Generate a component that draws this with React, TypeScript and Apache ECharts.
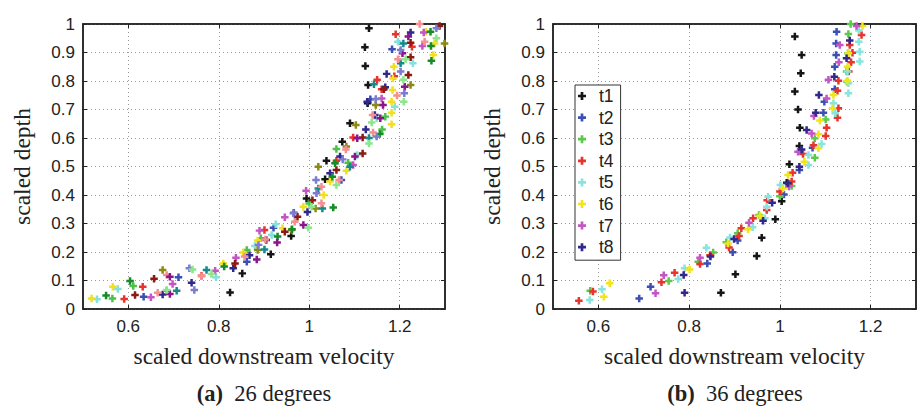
import React, { useEffect, useRef } from 'react';
import * as echarts from 'echarts';

// ---------- shared axis values ----------
const xTickValues = [0.6, 0.8, 1.0, 1.2];
const xMin = 0.5;
const xMax = 1.3;
const yMin = 0;
const yMax = 1;

// ---------- (a) 26 degrees : 16 profiles ----------
const a26_black = [[1.132,0.985],[1.123,0.918],[1.124,0.853],[1.130,0.786],[1.129,0.722],[1.090,0.652],[1.073,0.587],[1.038,0.520],[1.035,0.455],[0.994,0.388],[0.960,0.256],[0.915,0.192],[0.852,0.125],[0.825,0.058]];
const a26_blue = [[1.183,0.911],[1.135,0.736],[1.071,0.453],[0.966,0.338],[0.921,0.285],[0.862,0.166],[0.711,0.111],[0.634,0.043]];
const a26_green = [[1.168,0.675],[1.161,0.630],[1.060,0.561],[1.086,0.513],[1.000,0.370],[0.893,0.248],[0.862,0.207],[0.611,0.081],[0.565,0.037]];
const a26_red = [[1.191,0.964],[1.227,0.920],[1.188,0.817],[1.150,0.804],[1.160,0.771],[1.097,0.602],[1.060,0.520],[0.901,0.277],[0.762,0.117],[0.632,0.078],[0.591,0.035]];
const a26_cyan = [[1.196,0.938],[1.229,0.862],[1.189,0.710],[1.149,0.669],[1.106,0.540],[0.926,0.297],[0.917,0.260],[0.880,0.221],[0.794,0.111],[0.577,0.070],[0.531,0.034]];
const a26_yellow = [[1.258,0.973],[1.277,0.932],[1.274,0.891],[1.187,0.850],[1.185,0.809],[1.184,0.768],[1.182,0.727],[1.182,0.689],[1.182,0.648],[1.082,0.485],[1.046,0.447],[1.032,0.400],[0.987,0.359],[0.941,0.283],[0.886,0.240],[0.854,0.198],[0.810,0.160],[0.566,0.078],[0.519,0.037]];
const a26_magenta = [[1.253,0.970],[1.250,0.923],[1.160,0.739],[1.097,0.505],[0.993,0.415],[0.946,0.322],[0.890,0.275],[0.838,0.180],[0.792,0.134],[0.698,0.088],[0.650,0.041]];
const a26_navy = [[1.224,0.970],[1.171,0.825],[1.168,0.778],[1.128,0.727],[1.145,0.681],[1.125,0.630],[1.068,0.535],[1.046,0.476],[0.996,0.340],[0.905,0.242],[0.868,0.189],[0.832,0.143],[0.740,0.092],[0.676,0.051]];
const a26_darkred = [[1.288,0.993],[1.224,0.934],[1.224,0.883],[1.219,0.821],[1.165,0.771],[1.118,0.602],[1.118,0.546],[1.060,0.488],[1.007,0.382],[0.974,0.324],[0.946,0.271],[0.836,0.160],[0.657,0.106],[0.615,0.049]];
const a26_olive = [[1.299,0.932],[1.224,0.786],[1.147,0.716],[1.103,0.646],[1.082,0.570],[1.020,0.499],[1.014,0.353],[0.961,0.277],[0.886,0.207],[0.676,0.137],[0.685,0.064]];
const a26_teal = [[1.208,0.932],[1.202,0.862],[1.143,0.789],[1.132,0.600],[1.090,0.499],[1.020,0.423],[1.029,0.353],[0.901,0.209],[0.773,0.137],[0.707,0.064]];
const a26_darkgreen = [[1.268,0.973],[1.269,0.923],[1.270,0.871],[1.156,0.614],[1.057,0.511],[1.051,0.464],[1.053,0.356],[0.962,0.280],[0.930,0.254],[0.812,0.149],[0.604,0.098],[0.551,0.047]];
const a26_pink = [[1.244,1.000],[1.255,0.938],[1.196,0.876],[1.194,0.749],[1.140,0.681],[1.141,0.619],[1.081,0.560],[1.066,0.453],[1.027,0.429],[1.027,0.371],[0.968,0.306],[0.903,0.244],[0.857,0.184],[0.762,0.115],[0.685,0.119],[0.665,0.057]];
const a26_purple = [[1.219,0.956],[1.206,0.897],[1.211,0.780],[1.163,0.716],[1.157,0.669],[1.106,0.599],[1.101,0.535],[0.987,0.295],[0.929,0.233],[0.884,0.174],[0.692,0.113],[0.692,0.053]];
const a26_lavender = [[1.281,0.985],[1.202,0.909],[1.202,0.833],[1.210,0.757],[1.147,0.737],[1.149,0.605],[1.074,0.525],[1.015,0.453],[1.016,0.406],[0.965,0.336],[0.888,0.225],[0.735,0.143],[0.746,0.067]];
const a26_lightgreen = [[1.281,0.950],[1.213,0.876],[1.208,0.804],[1.209,0.727],[1.138,0.654],[1.132,0.581],[1.060,0.435],[1.005,0.359],[0.998,0.285],[0.784,0.123],[0.742,0.139],[0.685,0.067]];

const leftData = [a26_black, a26_blue, a26_green, a26_red, a26_cyan, a26_yellow, a26_magenta, a26_navy,
  a26_darkred, a26_olive, a26_teal, a26_darkgreen, a26_pink, a26_purple, a26_lavender, a26_lightgreen];
const leftColors = ['#151515', '#3c50b4', '#4cc24c', '#e8342c', '#88e0da', '#f0e020', '#c455c4', '#2e2a8c',
  '#8c1a14', '#8c8a14', '#148a8a', '#148c28', '#f49090', '#8c148c', '#7c7cd0', '#8ce68c'];

// ---------- (b) 36 degrees : t1..t8 ----------
const b36_t1 = [[1.033,0.956],[1.048,0.891],[1.046,0.827],[1.033,0.763],[1.040,0.700],[1.044,0.636],[1.043,0.572],[1.021,0.508],[1.015,0.443],[1.004,0.378],[0.990,0.315],[0.960,0.250],[0.949,0.186],[0.902,0.122],[0.870,0.057]];
const b36_t2 = [[1.125,0.973],[1.124,0.932],[1.124,0.891],[1.121,0.850],[1.121,0.771],[1.098,0.727],[1.096,0.689],[1.072,0.566],[1.043,0.488],[1.009,0.402],[0.907,0.240],[0.896,0.199],[0.840,0.160],[0.715,0.078],[0.690,0.037]];
const b36_t3 = [[1.156,1.000],[1.151,0.965],[1.150,0.897],[1.147,0.833],[1.148,0.797],[1.101,0.665],[1.077,0.599],[1.077,0.531],[1.026,0.432],[1.000,0.396],[0.954,0.330],[0.907,0.266],[0.882,0.234],[0.853,0.198],[0.820,0.166],[0.755,0.098],[0.582,0.064]];
const b36_t4 = [[1.180,0.961],[1.154,0.926],[1.160,0.899],[1.157,0.866],[1.152,0.833],[1.129,0.801],[1.127,0.766],[1.129,0.704],[1.127,0.671],[1.103,0.636],[1.101,0.607],[1.074,0.575],[1.051,0.544],[1.028,0.478],[1.026,0.447],[1.000,0.412],[0.972,0.382],[0.971,0.347],[0.941,0.318],[0.915,0.283],[0.910,0.256],[0.888,0.216],[0.846,0.189],[0.824,0.158],[0.768,0.127],[0.739,0.094],[0.588,0.061],[0.557,0.029]];
const b36_t5 = [[1.174,0.977],[1.174,0.938],[1.176,0.903],[1.176,0.868],[1.149,0.833],[1.151,0.792],[1.151,0.757],[1.118,0.722],[1.122,0.687],[1.092,0.579],[1.063,0.540],[1.063,0.505],[1.001,0.435],[0.974,0.394],[0.971,0.359],[0.967,0.318],[0.940,0.287],[0.890,0.251],[0.838,0.215],[0.790,0.143],[0.776,0.105],[0.608,0.069],[0.581,0.032]];
const b36_t6 = [[1.182,0.993],[1.151,0.897],[1.149,0.850],[1.149,0.801],[1.118,0.751],[1.116,0.704],[1.088,0.661],[1.085,0.613],[1.085,0.564],[1.054,0.517],[1.018,0.470],[1.007,0.423],[0.956,0.326],[0.930,0.280],[0.886,0.230],[0.801,0.139],[0.625,0.090],[0.612,0.043]];
const b36_t7 = [[1.169,0.993],[1.132,0.926],[1.130,0.866],[1.107,0.804],[1.103,0.739],[1.075,0.677],[1.070,0.616],[1.040,0.552],[1.020,0.430],[0.932,0.303],[0.824,0.180],[0.744,0.118],[0.726,0.055]];
const b36_t8 = [[1.154,0.942],[1.147,0.880],[1.120,0.815],[1.086,0.751],[1.079,0.689],[1.059,0.628],[1.048,0.560],[1.043,0.499],[1.018,0.441],[0.983,0.373],[0.963,0.310],[0.899,0.246],[0.847,0.184],[0.788,0.119],[0.790,0.057]];

const rightNames = ['t1', 't2', 't3', 't4', 't5', 't6', 't7', 't8'];
const rightData = [b36_t1, b36_t2, b36_t3, b36_t4, b36_t5, b36_t6, b36_t7, b36_t8];
const rightColors = ['#151515', '#3c50b4', '#5cc84c', '#e8342c', '#88e4dc', '#f0e41c', '#c455c4', '#32288c'];

const PLUS = 'path://M2,0H4V2H6V4H4V6H2V4H0V2H2Z';
const SANS = '"Liberation Sans", Arial, Helvetica, sans-serif';
const SERIF = '"Liberation Serif", "Times New Roman", serif';

function xAx(gridIndex: number, top: boolean) {
  return {
    type: 'value',
    gridIndex,
    position: top ? 'top' : 'bottom',
    min: xMin,
    max: xMax,
    name: top ? '' : 'scaled downstream velocity',
    nameLocation: 'middle',
    nameGap: 35,
    nameTextStyle: { fontFamily: SERIF, fontSize: 23.5, color: '#222' },
    axisLine: { show: true, onZero: false, lineStyle: { color: '#222', width: 1.5 } },
    axisTick: { show: true, inside: true, length: 4, customValues: xTickValues, lineStyle: { color: '#222' } },
    axisLabel: {
      show: !top,
      customValues: xTickValues,
      margin: 9,
      fontFamily: SANS,
      fontSize: 17,
      color: '#222',
      formatter: (v: number) => String(Math.round(v * 10) / 10),
    },
    splitLine: { show: !top, lineStyle: { color: '#9a9a9a', width: 1, type: [1, 3] } },
  };
}

function yAx(gridIndex: number, right: boolean) {
  return {
    type: 'value',
    gridIndex,
    position: right ? 'right' : 'left',
    min: yMin,
    max: yMax,
    interval: 0.1,
    name: right ? '' : 'scaled depth',
    nameLocation: 'middle',
    nameRotate: 90,
    nameGap: 49,
    nameTextStyle: { fontFamily: SERIF, fontSize: 23.5, color: '#222' },
    axisLine: { show: true, onZero: false, lineStyle: { color: '#222', width: 1.5 } },
    axisTick: { show: true, inside: true, length: 4, lineStyle: { color: '#222' } },
    axisLabel: {
      show: !right,
      margin: 8,
      fontFamily: SANS,
      fontSize: 17,
      color: '#222',
      formatter: (v: number) => String(Math.round(v * 10) / 10),
    },
    splitLine: { show: !right, lineStyle: { color: '#9a9a9a', width: 1, type: [1, 3] } },
  };
}

function caption(x: number, letter: string, rest: string) {
  return {
    type: 'text',
    x,
    y: 393,
    style: {
      text: '{b|(' + letter + ')}  ' + rest,
      textAlign: 'center',
      textVerticalAlign: 'middle',
      fontFamily: SERIF,
      fontSize: 22.5,
      lineHeight: 24,
      fill: '#222',
      rich: { b: { fontFamily: SERIF, fontSize: 22.5, lineHeight: 24, fontWeight: 'bold', fill: '#222' } },
    },
  };
}

export default function App() {
  const ref = useRef<HTMLDivElement>(null);
  useEffect(() => {
    if (!ref.current) return;
    const chart = echarts.init(ref.current, undefined, { renderer: 'svg' });
    const series: any[] = [];
    leftData.forEach((d, i) => {
      series.push({
        type: 'scatter',
        name: 'a' + (i + 1),
        xAxisIndex: 0,
        yAxisIndex: 0,
        data: d,
        symbol: PLUS,
        symbolSize: 7.5,
        itemStyle: { color: leftColors[i], opacity: 1 },
      });
    });
    rightData.forEach((d, i) => {
      series.push({
        type: 'scatter',
        name: rightNames[i],
        xAxisIndex: 2,
        yAxisIndex: 2,
        data: d,
        symbol: PLUS,
        symbolSize: 7.5,
        itemStyle: { color: rightColors[i], opacity: 1 },
      });
    });
    chart.setOption({
      animation: false,
      backgroundColor: '#ffffff',
      grid: [
        { left: 83, right: 478, top: 24, bottom: 99, show: true, borderColor: '#222', borderWidth: 1.5 },
        { left: 553, right: 7, top: 24, bottom: 99, show: true, borderColor: '#222', borderWidth: 1.5 },
      ],
      xAxis: [xAx(0, false), xAx(0, true), xAx(1, false), xAx(1, true)],
      yAxis: [yAx(0, false), yAx(0, true), yAx(1, false), yAx(1, true)],
      legend: {
        data: rightNames,
        orient: 'vertical',
        left: 575,
        top: 85,
        padding: [2, 7, 4, 3],
        itemGap: 3.6,
        itemWidth: 8,
        itemHeight: 8,
        icon: PLUS,
        borderColor: '#333',
        borderWidth: 1,
        backgroundColor: '#fff',
        textStyle: { fontFamily: SANS, fontSize: 17.5, color: '#222', lineHeight: 17, padding: [0, 0, 0, 8] },
        selectedMode: false,
      },
      graphic: [caption(264, 'a', '26 degrees'), caption(735, 'b', '36 degrees')],
      series,
    });
    return () => chart.dispose();
  }, []);
  return <div ref={ref} style={{ position: 'fixed', left: 0, top: 0, width: 923, height: 408 }} />;
}
